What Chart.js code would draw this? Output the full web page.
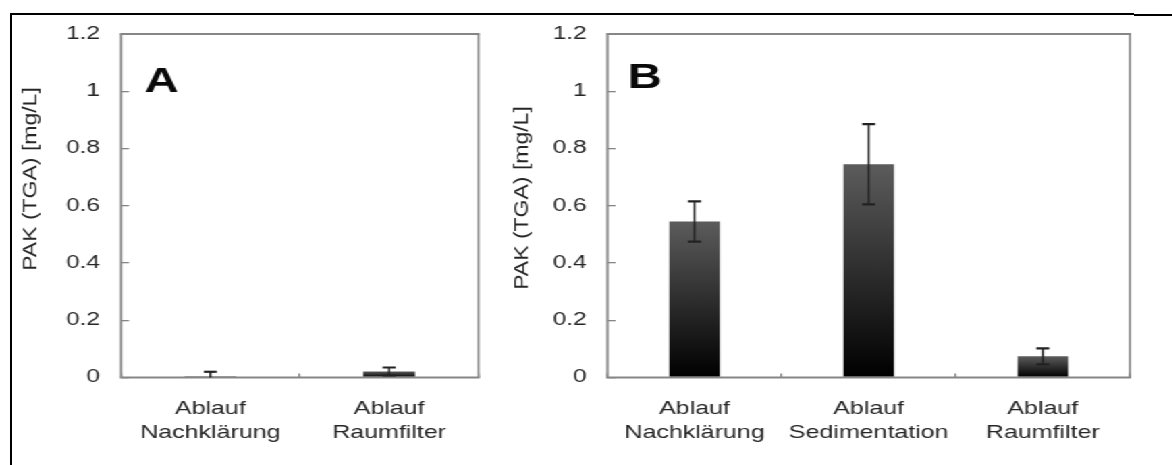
<!DOCTYPE html>
<html><head><meta charset="utf-8">
<script src="https://cdn.jsdelivr.net/npm/chart.js@4"></script>
<style>
html,body{margin:0;padding:0;background:#fff;width:1172px;height:465px;overflow:hidden;}
#stretch{position:absolute;left:0;top:0;width:868px;height:465px;transform:scaleX(1.35);transform-origin:0 0;}
#cA{position:absolute;left:0;top:0;}
#cB{position:absolute;left:363px;top:0;}
.ln{position:absolute;background:#000;}
</style></head><body>
<div class="ln" style="left:10px;top:13px;width:1124px;height:2px"></div>
<div class="ln" style="left:1134px;top:14px;width:38px;height:2px"></div>
<div class="ln" style="left:10px;top:13px;width:2px;height:452px"></div>
<div id="stretch"><canvas id="cA" width="363" height="465"></canvas><canvas id="cB" width="505" height="465"></canvas></div>
<script>
const categoriesA = [['Ablauf','Nachklärung'],['Ablauf','Raumfilter']];
const valuesA = [0.004, 0.021];
const errorsA = [0.016, 0.014];
const categoriesB = [['Ablauf','Nachklärung'],['Ablauf','Sedimentation'],['Ablauf','Raumfilter']];
const valuesB = [0.545, 0.745, 0.074];
const errorsB = [0.07, 0.14, 0.028];
const yTickLabels = ['0','0.2','0.4','0.6','0.8','1','1.2'];
const yTitle = 'PAK (TGA) [mg/L]';
const FONT = "'Liberation Sans', Arial, sans-serif";
const TEXT = '#262626';
const FRAME = '#868686';

function barGradient(c) {
  const chart = c.chart;
  if (c.type !== 'data' || !chart.scales || !chart.scales.y) return '#333';
  const ys = chart.scales.y;
  const top = ys.getPixelForValue(c.raw);
  const bot = ys.getPixelForValue(0);
  if (!(bot - top > 0.5) || !isFinite(top)) return '#111';
  const g = chart.ctx.createLinearGradient(0, top, 0, bot);
  g.addColorStop(0, '#5c5c5c');
  g.addColorStop(1, '#000000');
  return g;
}

const panelPlugin = {
  id: 'panel',
  afterDatasetsDraw(chart, args, o) {
    const ctx = chart.ctx, a = chart.chartArea;
    ctx.save();
    ctx.strokeStyle = FRAME;
    ctx.lineWidth = 2.2;
    ctx.beginPath();
    ctx.moveTo(a.left - 0.8, a.top); ctx.lineTo(a.right + 0.8, a.top);
    ctx.moveTo(a.left - 0.8, a.bottom); ctx.lineTo(a.right + 0.8, a.bottom);
    ctx.stroke();
    ctx.lineWidth = 1.6;
    ctx.beginPath();
    ctx.moveTo(a.left, a.top); ctx.lineTo(a.left, a.bottom);
    ctx.moveTo(a.right, a.top); ctx.lineTo(a.right, a.bottom);
    ctx.stroke();
    // error bars
    const ds = chart.data.datasets[0];
    const meta = chart.getDatasetMeta(0), ys = chart.scales.y;
    ctx.strokeStyle = '#222';
    meta.data.forEach((el, i) => {
      const v = ds.data[i], e = ds.errors[i];
      const yt = ys.getPixelForValue(v + e);
      const lo = v - e;
      const yb = ys.getPixelForValue(Math.max(0, lo));
      const cap = 4.8;
      ctx.lineWidth = 1.5;
      ctx.beginPath(); ctx.moveTo(el.x, yt); ctx.lineTo(el.x, yb); ctx.stroke();
      ctx.lineWidth = 2.2;
      ctx.beginPath(); ctx.moveTo(el.x - cap, yt); ctx.lineTo(el.x + cap, yt);
      if (lo > 0) { ctx.moveTo(el.x - cap, yb); ctx.lineTo(el.x + cap, yb); }
      ctx.stroke();
    });
    // panel letter
    ctx.fillStyle = '#0a0a0a';
    ctx.font = "bold 35px " + FONT;
    ctx.textAlign = 'left'; ctx.textBaseline = 'alphabetic';
    ctx.fillText(o.letter, o.letterX, o.letterY);
    // y title
    ctx.translate(o.titleX, o.titleY);
    ctx.rotate(-Math.PI / 2);
    ctx.scale(1, 0.64);
    ctx.fillStyle = TEXT;
    ctx.font = "23px " + FONT;
    ctx.textAlign = 'center'; ctx.textBaseline = 'middle';
    ctx.fillText(yTitle, 0, 0);
    ctx.restore();
  }
};

function makeChart(id, cats, vals, errs, o) {
  return new Chart(document.getElementById(id), {
    type: 'bar',
    data: { labels: cats, datasets: [{ data: vals, errors: errs, backgroundColor: barGradient, borderWidth: 0, barPercentage: 0.29, categoryPercentage: 1 }] },
    plugins: [panelPlugin],
    options: {
      responsive: false, animation: false, devicePixelRatio: 1,
      layout: { padding: { left: 0, right: o.padRight, top: 34, bottom: 0 } },
      plugins: { legend: { display: false }, tooltip: { enabled: false },
        panel: { letter: o.letter, letterX: o.letterX, letterY: o.letterY, titleX: o.titleX, titleY: o.titleY } },
      scales: {
        x: {
          afterFit: s => { s.height = 87.5; },
          border: { display: false },
          grid: { display: true, offset: true, drawOnChartArea: false, drawTicks: true, tickLength: -4, color: FRAME, lineWidth: 1.3 },
          ticks: { color: TEXT, padding: 24, maxRotation: 0, autoSkip: false, font: { family: FONT, size: 18.5, lineHeight: 1.27 } }
        },
        y: {
          min: 0, max: 1.2,
          afterFit: s => { s.width = o.yWidth; },
          border: { display: false },
          grid: { display: true, drawOnChartArea: false, drawTicks: true, tickLength: -6, color: FRAME, lineWidth: 1.3 },
          ticks: { stepSize: 0.2, color: TEXT, padding: 21.6, font: { family: FONT, size: 18 },
            callback: (v, i) => yTickLabels[i] }
        }
      }
    }
  });
}

makeChart('cA', categoriesA, valuesA, errorsA, { yWidth: 89.6, padRight: 8.5, letter: 'A', letterX: 107, letterY: 92, titleX: 22.6, titleY: 179 });
makeChart('cB', categoriesB, valuesB, errorsB, { yWidth: 87, padRight: 31, letter: 'B', letterX: 102, letterY: 88, titleX: 23.7, titleY: 198 });
</script>
</body></html>
